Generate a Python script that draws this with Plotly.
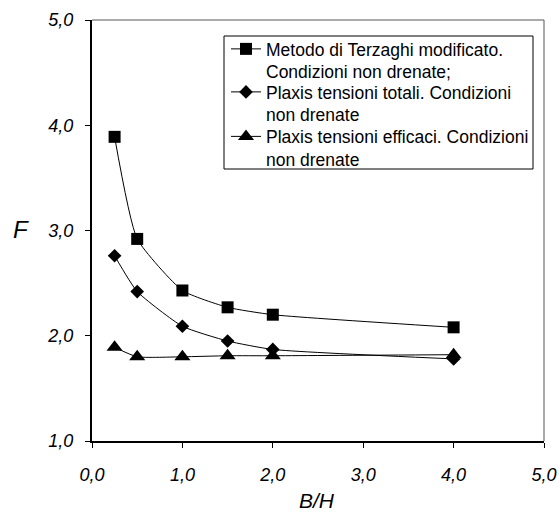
import plotly.graph_objects as go

bh = [0.25, 0.5, 1.0, 1.5, 2.0, 4.0]
terzaghi = [3.89, 2.92, 2.43, 2.27, 2.20, 2.08]
plaxis_totali = [2.76, 2.42, 2.09, 1.95, 1.87, 1.78]
plaxis_efficaci = [1.89, 1.80, 1.80, 1.81, 1.81, 1.82]

names = [
    "Metodo di Terzaghi modificato.<br>Condizioni non drenate;",
    "Plaxis tensioni totali. Condizioni<br>non drenate",
    "Plaxis tensioni efficaci. Condizioni<br>non drenate",
]
symbols = ["square", "diamond", "triangle-up"]
sizes = [12, 10.5, 14]
series = [terzaghi, plaxis_totali, plaxis_efficaci]
legend_ids = ["legend", "legend2", "legend3"]

FONT = "Liberation Sans, Arial, sans-serif"

# plot area in page pixels: x 92..544, y 20..441
def px_x(p):
    return (p - 92) / 452.0

def px_y(p):
    return (441 - p) / 421.0

fig = go.Figure()
for nm, sym, sz, ys, lg in zip(names, symbols, sizes, series, legend_ids):
    fig.add_trace(go.Scatter(
        x=bh, y=ys, name=nm, mode="lines+markers", legend=lg,
        line=dict(color="black", width=1, shape="spline", smoothing=0.5),
        marker=dict(symbol=sym, size=sz, color="black"),
    ))

tickfont = dict(family=FONT, size=18, color="black", style="italic")
legfont = dict(family=FONT, size=17.5, color="black")

leg_tops = [31, 74, 118.5]
legends = {}
for lg, top in zip(legend_ids, leg_tops):
    legends[lg] = dict(
        x=px_x(226), y=px_y(top), xanchor="left", yanchor="top",
        borderwidth=0, bgcolor="rgba(0,0,0,0)", font=legfont,
        valign="top", itemwidth=30,
    )

fig.update_layout(
    width=560, height=512,
    margin=dict(l=92, r=16, t=20, b=71, autoexpand=False),
    paper_bgcolor="white", plot_bgcolor="white",
    separators=",.",
    font=dict(family=FONT, color="black"),
    showlegend=True,
    xaxis=dict(
        range=[0, 5], dtick=1, tick0=0, tickformat=".1f",
        showgrid=False, zeroline=False, automargin=False,
        showline=True, linecolor="black", linewidth=2,
        ticks="outside", ticklen=5, tickcolor="black", tickwidth=1,
        tickfont=tickfont, ticklabelstandoff=11,
    ),
    yaxis=dict(
        range=[1, 5], dtick=1, tick0=1, tickformat=".1f",
        showgrid=False, zeroline=False, automargin=False,
        showline=True, linecolor="black", linewidth=2,
        ticks="outside", ticklen=5, tickcolor="black", tickwidth=1,
        tickfont=tickfont, ticklabelstandoff=8,
    ),
    shapes=[
        dict(type="line", xref="paper", yref="paper", x0=0, x1=1, y0=1, y1=1,
             line=dict(color="#555555", width=1), layer="below"),
        dict(type="line", xref="paper", yref="paper", x0=1, x1=1, y0=0, y1=1,
             line=dict(color="#555555", width=1), layer="below"),
        dict(type="rect", xref="paper", yref="paper",
             x0=px_x(224), x1=px_x(533), y0=px_y(169), y1=px_y(36),
             line=dict(color="black", width=1), fillcolor="white", layer="below"),
    ],
    annotations=[
        dict(text="F", xref="paper", yref="paper", x=px_x(21), y=px_y(229),
             xanchor="center", yanchor="middle", showarrow=False,
             font=dict(family=FONT, size=24, style="italic", color="black")),
        dict(text="B/H", xref="paper", yref="paper", x=px_x(317), y=px_y(500),
             xanchor="center", yanchor="middle", showarrow=False,
             font=dict(family=FONT, size=21, style="italic", color="black")),
    ],
    **legends,
)

fig.write_html("out.html", config={"displayModeBar": False},
               post_script="document.body.style.margin='0px';")
